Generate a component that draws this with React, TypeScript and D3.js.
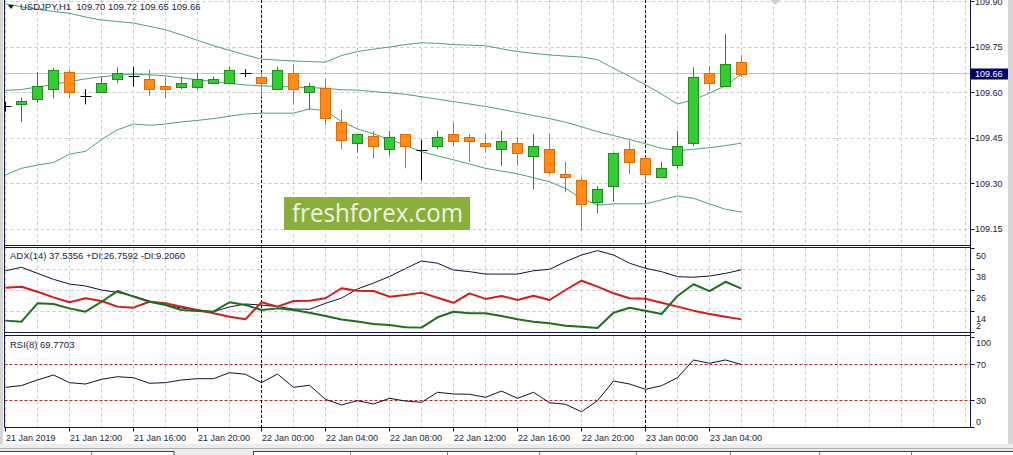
import React from 'react';
import * as d3 from 'd3';

// ---------- DATA ----------
const openP = [109.553,109.560,109.578,109.610,109.665,109.588,109.601,109.643,109.654,109.644,109.621,109.618,109.618,109.630,109.630,109.663,109.651,109.610,109.663,109.600,109.613,109.501,109.432,109.454,109.412,109.462,109.410,109.421,109.462,109.452,109.432,109.412,109.432,109.391,109.412,109.330,109.309,109.239,109.291,109.412,109.382,109.320,109.360,109.432,109.663,109.621,109.70];
const highP = [109.569,109.582,109.665,109.680,109.674,109.610,109.651,109.681,109.684,109.674,109.651,109.651,109.663,109.651,109.684,109.676,109.665,109.684,109.693,109.630,109.644,109.542,109.462,109.472,109.472,109.462,109.443,109.472,109.501,109.462,109.462,109.472,109.452,109.462,109.462,109.371,109.320,109.290,109.401,109.440,109.385,109.371,109.472,109.682,109.687,109.792,109.72];
const lowP = [109.536,109.501,109.567,109.580,109.580,109.560,109.600,109.630,109.618,109.588,109.580,109.610,109.608,109.630,109.630,109.649,109.585,109.608,109.560,109.542,109.492,109.412,109.401,109.382,109.391,109.349,109.309,109.412,109.421,109.371,109.401,109.358,109.358,109.280,109.330,109.270,109.143,109.201,109.239,109.330,109.305,109.320,109.349,109.421,109.608,109.621,109.65];
const closeP = [109.553,109.571,109.621,109.674,109.600,109.588,109.630,109.663,109.654,109.610,109.610,109.630,109.643,109.643,109.674,109.663,109.630,109.674,109.610,109.621,109.515,109.443,109.462,109.421,109.452,109.421,109.410,109.452,109.440,109.440,109.421,109.440,109.401,109.421,109.338,109.320,109.231,109.280,109.401,109.371,109.330,109.349,109.421,109.651,109.630,109.692,109.66];

const bbUpper = [109.891,109.882,109.873,109.866,109.860,109.848,109.838,109.833,109.828,109.817,109.806,109.789,109.771,109.753,109.738,109.723,109.709,109.706,109.703,109.701,109.699,109.721,109.734,109.742,109.749,109.757,109.763,109.761,109.757,109.755,109.753,109.743,109.734,109.728,109.723,109.719,109.716,109.707,109.679,109.652,109.624,109.594,109.561,109.575,109.597,109.621,109.660];
const bbMiddle = [109.606,109.609,109.617,109.626,109.635,109.644,109.651,109.656,109.660,109.657,109.654,109.647,109.641,109.635,109.629,109.624,109.621,109.619,109.617,109.615,109.613,109.608,109.607,109.602,109.598,109.593,109.585,109.577,109.569,109.561,109.553,109.543,109.533,109.523,109.513,109.501,109.486,109.470,109.457,109.444,109.430,109.415,109.407,109.412,109.417,109.424,109.432];
const bbLower = [109.327,109.349,109.360,109.368,109.396,109.405,109.444,109.476,109.495,109.491,109.495,109.502,109.507,109.513,109.521,109.528,109.531,109.531,109.531,109.545,109.539,109.503,109.479,109.463,109.444,109.425,109.404,109.390,109.377,109.363,109.349,109.340,109.331,109.318,109.305,109.283,109.250,109.228,109.232,109.232,109.232,109.245,109.258,109.250,109.232,109.214,109.205];

const adxMain = [37.0,39.0,35.5,32.1,29.4,28.3,26.0,24.6,22.6,19.7,17.4,15.7,14.6,13.6,16.3,18.0,17.4,16.5,15.1,15.0,18.4,21.4,26.6,30.0,33.7,38.3,42.6,41.3,37.4,36.5,35.1,35.1,35.1,37.0,37.8,42.2,46.0,48.5,46.0,41.3,38.4,36.5,33.6,33.3,34.0,35.5,37.54];
const plusDI = [8.5,7.9,18.4,18.0,15.5,13.6,19.3,25.4,22.2,19.3,17.4,14.6,14.0,13.6,19.0,17.4,14.6,15.5,14.6,13.0,11.1,9.1,8.0,6.6,6.0,4.7,4.5,10.4,13.6,12.7,12.7,11.1,9.3,7.9,7.0,5.6,5.0,4.3,13.0,15.9,14.2,12.3,22.6,29.3,25.4,30.7,26.76];
const minusDI = [27.3,27.9,25.0,21.8,19.0,21.3,19.7,16.5,15.9,19.3,18.4,16.5,14.6,12.7,10.7,9.3,19.0,16.5,19.7,19.9,21.3,27.0,25.6,25.4,22.2,23.1,24.5,21.6,18.7,24.1,20.9,22.6,20.3,22.7,20.3,26.0,31.3,27.9,24.1,21.3,21.0,18.7,16.5,14.2,12.3,10.7,9.21];
const rsiVals = [44.4,46.4,52.6,58.1,49.6,48.1,53.3,56.2,55.1,48.9,49.6,52.6,54.0,54.0,60.7,58.9,49.6,59.2,44.4,46.7,31.1,24.8,29.6,25.9,32.2,29.2,27.8,38.9,37.0,36.7,33.3,40.3,32.2,38.9,27.3,25.6,17.3,29.6,51.4,48.1,42.2,46.2,55.1,74.8,71.1,74.8,69.77];

const timeLabels = ['21 Jan 2019','21 Jan 12:00','21 Jan 16:00','21 Jan 20:00','22 Jan 00:00','22 Jan 04:00','22 Jan 08:00','22 Jan 12:00','22 Jan 16:00','22 Jan 20:00','23 Jan 00:00','23 Jan 04:00'];
const timeLabelBars = [0,4,8,12,16,20,24,28,32,36,40,44];
const daySeparatorBars = [16, 40];
const priceTicks = [109.90,109.75,109.60,109.45,109.30,109.15];
const adxTicks = [50,38,26,14,2];
const rsiTicks = [100,70,30,0];
const rsiLevels = [70,30];
const lastPrice = 109.66;

// ---------- LAYOUT ----------
const W = 1013, H = 455;
const LEFT = 4.5, RIGHT = 970.5;
const MAIN_T = 0, MAIN_B = 245.5;
const ADX_T = 247.5, ADX_B = 332.5;
const RSI_T = 335.5, RSI_B = 427.5;
const FONT = '"Liberation Sans", Arial, sans-serif';
const NAVY = '#14144a';
const TXT = '#1c1c3c';

export default function App() {
  const x = d3.scaleLinear().domain([0, 1]).range([5, 21]);
  const yP = d3.scaleLinear().domain([109.15, 109.90]).range([228.7, 1.2]);
  const yA = d3.scaleLinear().domain([2, 50]).range([332, 248]);
  const yR = d3.scaleLinear().domain([0, 100]).range([427.3, 337.3]);

  const px = (i: number) => Math.round(x(i)) + 0.5;
  const lineP = d3.line<number>().x((_, i) => px(i)).y(v => yP(v));
  const lineA = d3.line<number>().x((_, i) => px(i)).y(v => yA(v));
  const lineR = d3.line<number>().x((_, i) => px(i)).y(v => yR(v));

  const gridXs: number[] = [];
  for (let b = 0; x(b) < 968; b += 2) gridXs.push(px(b));

  const bull = { fill: '#33cc33', stroke: '#1f8a1f' };
  const bear = { fill: '#ff8c1a', stroke: '#e06a00' };

  const candles = openP.map((o, i) => {
    const c = closeP[i], h = highP[i], l = lowP[i];
    const cx = px(i);
    if (Math.abs(c - o) < 0.002) {
      const yy = Math.round(yP(c)) + 0.5;
      return (
        <g key={i} stroke="#000" strokeWidth={1}>
          <line x1={cx} x2={cx} y1={yP(h)} y2={yP(l)} />
          <line x1={cx - 5} x2={cx + 6} y1={yy} y2={yy} />
        </g>
      );
    }
    const col = c > o ? bull : bear;
    const top = Math.round(yP(Math.max(o, c))) + 0.5;
    const bot = Math.round(yP(Math.min(o, c))) + 0.5;
    return (
      <g key={i}>
        <line x1={cx} x2={cx} y1={yP(h)} y2={yP(l)} stroke={col.stroke} strokeWidth={1} />
        <rect x={cx - 5} y={top} width={10} height={Math.max(1, bot - top)} fill={col.fill} stroke={col.stroke} strokeWidth={1} />
      </g>
    );
  });

  const priceLabelY = yP(lastPrice);
  const pre = { whiteSpace: 'pre' as const };

  return (
    <svg width={W} height={H} style={{ position: 'absolute', left: 0, top: 0, background: '#fff' }} fontFamily={FONT}>
      <defs>
        <clipPath id="cMain"><rect x={LEFT} y={MAIN_T} width={RIGHT - LEFT} height={MAIN_B - MAIN_T} /></clipPath>
        <clipPath id="cAdx"><rect x={LEFT} y={ADX_T} width={RIGHT - LEFT} height={ADX_B - ADX_T} /></clipPath>
        <clipPath id="cRsi"><rect x={LEFT} y={RSI_T} width={RIGHT - LEFT} height={RSI_B - RSI_T} /></clipPath>
      </defs>
      <rect x={0} y={0} width={W} height={H} fill="#fff" />
      {/* window edges */}
      <rect x={0} y={0} width={3} height={444} fill="#d6d6d6" />
      <rect x={1008} y={0} width={5} height={444} fill="#d6d6d6" />

      {/* vertical grid */}
      <g stroke="#c8c8c8" strokeWidth={1} strokeDasharray="3,3">
        {gridXs.map((gx, k) => (
          <g key={k}>
            <line x1={gx} x2={gx} y1={MAIN_T} y2={MAIN_B} />
            <line x1={gx} x2={gx} y1={ADX_T} y2={ADX_B} />
            <line x1={gx} x2={gx} y1={RSI_T} y2={RSI_B} />
          </g>
        ))}
      </g>
      {/* horizontal grid */}
      <g stroke="#c8c8c8" strokeWidth={1} strokeDasharray="3,3">
        {priceTicks.map(p => {
          const yy = Math.round(yP(p)) + 0.5;
          return <line key={p} x1={LEFT} x2={RIGHT} y1={yy} y2={yy} />;
        })}
        {adxTicks.slice(1, 4).map(v => {
          const yy = Math.round(yA(v)) + 0.5;
          return <line key={v} x1={LEFT} x2={RIGHT} y1={yy} y2={yy} />;
        })}
      </g>
      {/* RSI levels */}
      <g stroke="#b02828" strokeWidth={1} strokeDasharray="3,2">
        {rsiLevels.map(v => {
          const yy = Math.round(yR(v)) + 0.5;
          return <line key={v} x1={LEFT} x2={RIGHT} y1={yy} y2={yy} />;
        })}
      </g>
      {/* bid line */}
      <line x1={LEFT} x2={RIGHT} y1={Math.round(priceLabelY) - 0.5} y2={Math.round(priceLabelY) - 0.5} stroke="#c4c4c4" strokeWidth={1} />

      {/* day separators */}
      <g stroke="#000" strokeWidth={1} strokeDasharray="3,2">
        {daySeparatorBars.map(b => (
          <line key={b} x1={px(b)} x2={px(b)} y1={MAIN_T} y2={RSI_B} />
        ))}
      </g>

      {/* main: bollinger + candles */}
      <g clipPath="url(#cMain)">
        <g fill="none" stroke="#4f9c80" strokeWidth={1}>
          <path d={lineP(bbUpper) || ''} />
          <path d={lineP(bbMiddle) || ''} />
          <path d={lineP(bbLower) || ''} />
        </g>
        {candles}
      </g>

      {/* watermark */}
      <rect x={284} y={197} width={186} height={33} fill="#8aae3b" />
      <text x={292} y={222} fontFamily='"Open Sans", sans-serif' fontSize={25} fill="#eef4e2" textLength={171} lengthAdjust="spacingAndGlyphs">freshforex.com</text>

      {/* ADX */}
      <g clipPath="url(#cAdx)" fill="none">
        <path d={lineA(adxMain) || ''} stroke="#101040" strokeWidth={1} />
        <path d={lineA(minusDI) || ''} stroke="#d41c1c" strokeWidth={2} strokeLinejoin="round" />
        <path d={lineA(plusDI) || ''} stroke="#1e6e1e" strokeWidth={2} strokeLinejoin="round" />
      </g>

      {/* RSI */}
      <g clipPath="url(#cRsi)" fill="none">
        <path d={lineR(rsiVals) || ''} stroke="#101030" strokeWidth={1} />
      </g>

      {/* frames */}
      <g stroke={NAVY} strokeWidth={1}>
        <line x1={LEFT} x2={LEFT} y1={0} y2={RSI_B} />
        <line x1={RIGHT} x2={RIGHT} y1={0} y2={RSI_B} />
        <line x1={LEFT} x2={RIGHT} y1={MAIN_B} y2={MAIN_B} />
        <line x1={LEFT} x2={RIGHT} y1={ADX_T} y2={ADX_T} />
        <line x1={LEFT} x2={RIGHT} y1={ADX_B} y2={ADX_B} />
        <line x1={LEFT} x2={RIGHT} y1={RSI_T} y2={RSI_T} />
        <line x1={LEFT} x2={RIGHT} y1={RSI_B} y2={RSI_B} />
      </g>

      {/* headers */}
      <path d="M8,5 L14,5 L11,9 Z" fill={NAVY} />
      <text x={20} y={10} fontSize={9.5} fill={TXT} style={pre}>{'USDJPY,H1  109.70 109.72 109.65 109.66'}</text>
      <text x={10} y={259} fontSize={9.5} fill={TXT}>ADX(14) 37.5356 +DI:26.7592 -DI:9.2060</text>
      <text x={10} y={348} fontSize={9.5} fill={TXT}>RSI(8) 69.7703</text>
      <path d="M770,0 L780,0 L775,5 Z" fill="#d0d0d0" />

      {/* price axis */}
      <g fontSize={9} fill={TXT}>
        {priceTicks.map(p => {
          const yy = yP(p);
          return (
            <g key={p}>
              <line x1={RIGHT} x2={RIGHT + 4} y1={Math.round(yy) + 0.5} y2={Math.round(yy) + 0.5} stroke={NAVY} />
              <text x={975} y={yy + 3.3}>{p.toFixed(2)}</text>
            </g>
          );
        })}
      </g>
      <rect x={971} y={priceLabelY - 5.5} width={37} height={11} fill="#000066" />
      <text x={975} y={priceLabelY + 3.3} fontSize={9} fill="#fff">{lastPrice.toFixed(2)}</text>

      {/* ADX axis */}
      <g fontSize={9} fill={TXT}>
        {adxTicks.map(v => {
          const yy = yA(v);
          const ly = Math.min(Math.max(yy + 8, 253), 326);
          return (
            <g key={v}>
              <line x1={RIGHT} x2={RIGHT + 4} y1={Math.round(yy) + 0.5} y2={Math.round(yy) + 0.5} stroke={NAVY} />
              <text x={976} y={ly + 3.3}>{v}</text>
            </g>
          );
        })}
      </g>
      {/* RSI axis */}
      <g fontSize={9} fill={TXT}>
        {rsiTicks.map(v => {
          const yy = yR(v);
          const ly = Math.min(Math.max(yy, 342.3), 421.7);
          return (
            <g key={v}>
              <line x1={RIGHT} x2={RIGHT + 4} y1={Math.round(yy) + 0.5} y2={Math.round(yy) + 0.5} stroke={NAVY} />
              <text x={976} y={ly + 3.3}>{v}</text>
            </g>
          );
        })}
      </g>

      {/* time axis */}
      <g fontSize={9} fill={TXT}>
        {timeLabelBars.map((b, k) => (
          <g key={b}>
            <line x1={px(b)} x2={px(b)} y1={RSI_B} y2={RSI_B + 4} stroke={NAVY} />
            <text x={px(b) + 0.5} y={440.5}>{timeLabels[k]}</text>
          </g>
        ))}
      </g>

      {/* bottom tab strip */}
      <rect x={0} y={444} width={W} height={11} fill="#ececec" />
      <line x1={0} x2={W} y1={448.5} y2={448.5} stroke="#b0b0b0" />
      <g fill="#fff" stroke="#404040" strokeWidth={1}>
        <rect x={-1} y={451.5} width={175} height={6} />
        <rect x={253.5} y={451.5} width={760} height={6} />
      </g>
      <g stroke="#808080">
        {[91, 350, 447, 539, 636, 730, 819, 911].map(t => (
          <line key={t} x1={t + 0.5} x2={t + 0.5} y1={452} y2={455} />
        ))}
      </g>
    </svg>
  );
}
